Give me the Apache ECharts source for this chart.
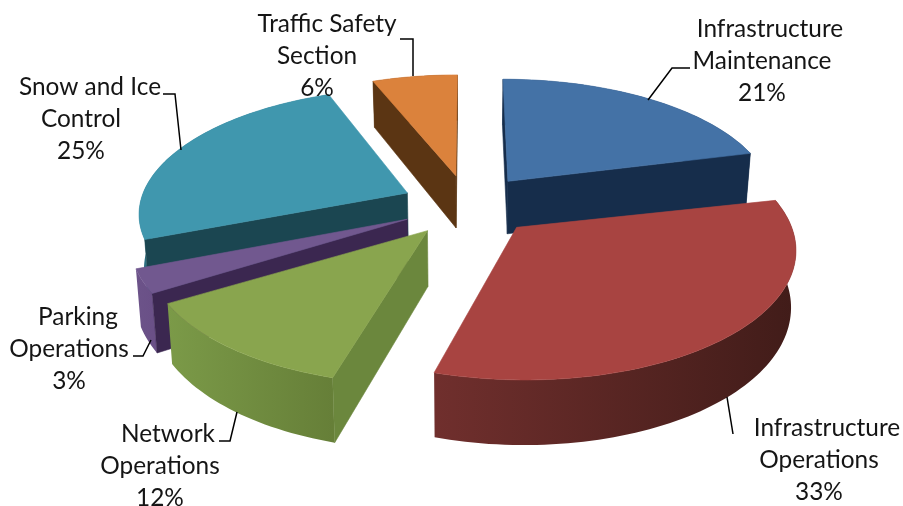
<!DOCTYPE html>
<html>
<head>
<meta charset="utf-8">
<style>html,body{margin:0;padding:0;background:#fff}#c{width:903px;height:506px}</style>
<script src="https://cdn.jsdelivr.net/npm/echarts@6/dist/echarts.min.js"></script>
</head>
<body>
<div id="c"></div>
<script>
// ---- data ----
var categories = ['Infrastructure\nMaintenance', 'Infrastructure\nOperations', 'Network\nOperations', 'Parking\nOperations', 'Snow and Ice\nControl', 'Traffic Safety\nSection'];
var values = [21, 33, 12, 3, 25, 6];
// ---- styles ----
var topColors = ['#4472a6', '#a84441', '#89a54e', '#71588f', '#4097ae', '#db823c'];
var startFace = ['#162d4b', '#3f1b19', '#6b873d', '#3b2750', '#1b4651', '#5b3513'];
var endFace = ['#162d4b', '#3f1b19', '#5b7334', '#3b2750', '#1b4651', '#5b3513'];
var wallLeft = ['#1f3d63', '#702f2d', '#7b9a48', '#6c5389', '#2b6f80', '#6b3d18'];
var wallRight = ['#1a3353', '#411c19', '#667f38', '#6a5087', '#2b6f80', '#6b3d18'];
var drawOrder = [5, 0, 4, 3, 2, 1];
// ---- projection ----
var CX = 468, CY = 205, A = 268, B = 123.3, P = 0.145, EXPLODE = 0.25, DEPTH = 54, BOTTOM_SHRINK = 0.985;
var twist = [0, 0.035, 0.025, 0, 0, 0];
var total = values.reduce(function (a, b) { return a + b; }, 0);
function project(u, v, low) {
  var w = 1 + P * v, x = A * u / w, y = -B * v / w;
  if (low) { x *= BOTTOM_SHRINK; y += DEPTH / w; }
  return [CX + x, CY + y];
}
function sliceGeom(i) {
  var before = 0;
  for (var k = 0; k < i; k++) before += values[k];
  var a0 = before / total * 2 * Math.PI, a1 = (before + values[i]) / total * 2 * Math.PI, m = (a0 + a1) / 2;
  var ou = EXPLODE * Math.sin(m), ov = EXPLODE * Math.cos(m);
  var n = Math.max(6, Math.round((a1 - a0) * 40)), arc = [];
  for (var j = 0; j <= n; j++) {
    var t = a0 + (a1 - a0) * j / n + twist[i];
    arc.push([ou + Math.sin(t), ov + Math.cos(t)]);
  }
  return { apex: [ou, ov], arc: arc };
}
function poly(points, fill, stroke) {
  return { type: 'polygon', shape: { points: points }, style: { fill: fill, stroke: stroke || fill, lineWidth: 0.6 } };
}
// a cut face hangs straight down from its top edge: it shows only if the top surface lies on the other side of that edge
function faceVisible(at, edge, mid) {
  var ex = edge[0] - at[0], ey = edge[1] - at[1];
  var downSide = ex;
  var midSide = ex * (mid[1] - at[1]) - ey * (mid[0] - at[0]);
  return downSide * midSide < 0 || (downSide === 0);
}
function renderItem(params, api) {
  var i = api.value(0), g = sliceGeom(i), arc = g.arc, top = [], low = [];
  arc.forEach(function (p) { top.push(project(p[0], p[1], false)); low.push(project(p[0], p[1], true)); });
  var at = project(g.apex[0], g.apex[1], false), ab = project(g.apex[0], g.apex[1], true);
  var last = top.length - 1, mid = top[Math.round(last / 2)];
  var xs = top.map(function (p) { return p[0]; });
  var minX = Math.min.apply(null, xs), maxX = Math.max.apply(null, xs);
  var grad = new echarts.graphic.LinearGradient(minX, 0, maxX, 0, [
    { offset: 0, color: wallLeft[i] }, { offset: 1, color: wallRight[i] }], true);
  var children = [poly(top.concat(low.slice().reverse()), grad, 'transparent')];
  if (faceVisible(at, top[last], mid)) children.push(poly([at, top[last], low[last], ab], endFace[i]));
  if (faceVisible(at, top[0], mid)) children.push(poly([at, top[0], low[0], ab], startFace[i]));
  children.push(poly([at].concat(top), topColors[i]));
  return { type: 'group', children: children };
}
// ---- annotation layout ----
var LINE_HEIGHT = 32;
var labelPos = [[762, 29], [819, 428], [160, 434], [69, 317], [81, 87], [317, 24]];
var firstLineShift = [8, 8, 8, 9, 9, 10];
var leaders = [
  [[648, 100], [672, 68], [690, 68]],
  [[727, 397], [733, 434]],
  [[237, 412], [230, 441], [219, 441]],
  [[151, 340], [143, 356], [133, 356]],
  [[181, 150], [175, 94], [163, 94]],
  [[413, 76], [413, 39], [400, 39]]
];
var graphics = [];
categories.forEach(function (name, i) {
  graphics.push({
    type: 'polyline', silent: true, shape: { points: leaders[i] },
    style: { stroke: '#000', lineWidth: 1.5, fill: null }, z: 5
  });
  (name + '\n' + values[i] + '%').split('\n').forEach(function (line, k) {
    graphics.push({
      type: 'text', silent: true, x: labelPos[i][0] + (k === 0 ? firstLineShift[i] : 0), y: labelPos[i][1] + k * LINE_HEIGHT, z: 6,
      style: { text: line, font: '400 24.4px Lato', fill: '#151515', align: 'center', verticalAlign: 'middle' }
    });
  });
});
var chart = echarts.init(document.getElementById('c'));
chart.setOption({
  animation: false,
  backgroundColor: '#fff',
  graphic: graphics,
  series: [{
    type: 'custom',
    coordinateSystem: 'none',
    renderItem: renderItem,
    silent: true,
    data: drawOrder.map(function (i) { return [i, values[i]]; })
  }]
});
</script>
</body>
</html>
